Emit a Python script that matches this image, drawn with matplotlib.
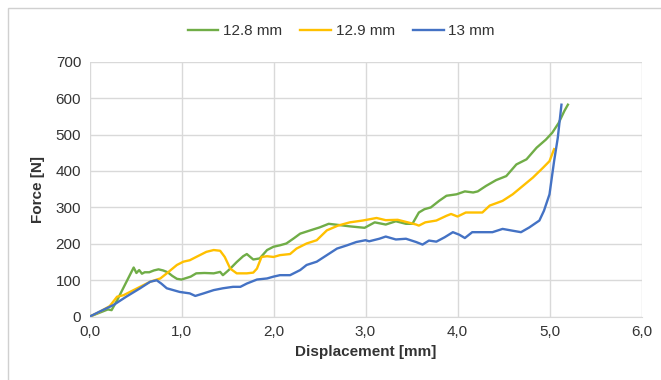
import matplotlib
matplotlib.use("Agg")
import matplotlib.pyplot as plt
from matplotlib.patches import Rectangle
from matplotlib.ticker import FuncFormatter

plt.rcParams['font.family'] = ['Liberation Sans', 'DejaVu Sans']

# displacement [mm] / force [N]
x_128 = [0.0, 0.1, 0.2, 0.24, 0.3, 0.36, 0.42, 0.46, 0.48, 0.51, 0.54, 0.57, 0.6, 0.65,
         0.7, 0.75, 0.8, 0.85, 0.9, 0.95, 1.0, 1.05, 1.1, 1.16, 1.25, 1.35, 1.42, 1.45,
         1.5, 1.53, 1.6, 1.67, 1.71, 1.78, 1.85, 1.93, 2.0, 2.07, 2.14, 2.22, 2.29, 2.4,
         2.5, 2.6, 2.7, 2.83, 2.99, 3.1, 3.22, 3.33, 3.44, 3.51, 3.58, 3.64, 3.71, 3.8,
         3.88, 3.99, 4.08, 4.17, 4.22, 4.31, 4.42, 4.53, 4.64, 4.75, 4.86, 4.96, 5.03,
         5.1, 5.16, 5.2]
f_128 = [0, 10, 20, 18, 45, 75, 105, 125, 135, 120, 128, 118, 122, 122,
         127, 130, 127, 122, 112, 104, 102, 106, 110, 119, 120, 119, 123, 114,
         125, 132, 150, 166, 172, 157, 160, 183, 192, 196, 201, 215, 228, 237,
         245, 255, 252, 248, 244, 259, 253, 262, 255, 255, 286, 295, 300, 318,
         332, 336, 344, 341, 344, 359, 375, 386, 418, 432, 464, 486, 505,
         532, 564, 582]

x_129 = [0.0, 0.1, 0.22, 0.3, 0.37, 0.44, 0.55, 0.66, 0.77, 0.84, 0.95, 1.02, 1.09,
         1.16, 1.27, 1.35, 1.42, 1.47, 1.53, 1.6, 1.71, 1.78, 1.82, 1.87, 1.93, 2.0,
         2.07, 2.18, 2.25, 2.36, 2.47, 2.58, 2.7, 2.83, 2.97, 3.12, 3.22, 3.35, 3.46,
         3.55, 3.58, 3.65, 3.77, 3.88, 3.93, 4.0, 4.09, 4.18, 4.27, 4.35, 4.49, 4.6,
         4.71, 4.82, 4.93, 5.0, 5.05]
f_129 = [0, 12, 29, 55, 59, 68, 82, 96, 105, 119, 142, 151, 155,
         164, 178, 183, 181, 164, 132, 119, 119, 121, 132, 164, 166, 164,
         169, 172, 187, 201, 210, 237, 250, 259, 264, 271, 265, 266, 259,
         253, 250, 259, 264, 277, 282, 275, 286, 286, 286, 305, 318, 336,
         359, 382, 409, 427, 460]

x_13 = [0.0, 0.11, 0.26, 0.4, 0.55, 0.66, 0.73, 0.78, 0.84, 0.91, 0.98, 1.09, 1.15,
        1.24, 1.35, 1.45, 1.56, 1.64, 1.71, 1.82, 1.93, 2.0, 2.07, 2.18, 2.29, 2.36,
        2.47, 2.58, 2.69, 2.8, 2.9, 3.0, 3.04, 3.15, 3.22, 3.33, 3.44, 3.55, 3.62,
        3.69, 3.77, 3.86, 3.95, 4.02, 4.08, 4.16, 4.27, 4.38, 4.49, 4.6, 4.69, 4.78,
        4.89, 4.94, 5.0, 5.05, 5.09, 5.13]
f_13 = [0, 14, 32, 55, 78, 96, 100, 91, 78, 73, 68, 64, 57,
        64, 73, 78, 82, 82, 91, 102, 105, 110, 114, 114, 128, 142,
        151, 169, 187, 196, 205, 210, 207, 214, 220, 212, 214, 205, 198,
        209, 206, 218, 232, 225, 216, 232, 232, 232, 241, 236, 232, 245,
        264, 291, 336, 427, 491, 582]

series = [
    ("12.8 mm", x_128, f_128, "#70AD47"),
    ("12.9 mm", x_129, f_129, "#FFC000"),
    ("13 mm", x_13, f_13, "#4472C4"),
]

fig = plt.figure(figsize=(6.61, 3.8), dpi=100)
ax = fig.add_axes([89.5 / 661, 1 - 316.7 / 380, 552 / 661, 255 / 380])

for label, xs, ys, color in series:
    ax.plot(xs, ys, color=color, linewidth=1.7, label=label)

ax.set_xlim(0, 6)
ax.set_ylim(0, 700)
ax.set_xticks(range(0, 7))
ax.set_yticks(range(0, 701, 100))
ax.xaxis.set_major_formatter(FuncFormatter(lambda v, p: f"{v:.1f}".replace(".", ",")))
ax.grid(True, color="#d9d9d9", linewidth=1)
ax.set_axisbelow(True)
for side in ["top", "right", "left"]:
    ax.spines[side].set_visible(False)
ax.spines["bottom"].set_color("#d9d9d9")
ax.tick_params(length=0, labelsize=11, colors="#333333", pad=6)

ax.set_xlabel("Displacement [mm]", fontsize=11, fontweight="bold", color="#333333", labelpad=4)
ax.set_ylabel("Force [N]", fontsize=11, fontweight="bold", color="#333333", labelpad=8)

ax.legend(loc="upper center", bbox_to_anchor=(0.456, 1.20), ncol=3, frameon=False,
          fontsize=11, handlelength=2.0, columnspacing=1.2, handletextpad=0.3,
          labelcolor="#333333")

# chart border (only left and top edges are visible in the crop)
fig.patches.append(Rectangle((8 / 661, -0.05), 1.1, 1.05 - 8 / 380,
                             transform=fig.transFigure, fill=False,
                             edgecolor="#d0d0d0", linewidth=1))

fig.savefig("out.png", dpi=100)
